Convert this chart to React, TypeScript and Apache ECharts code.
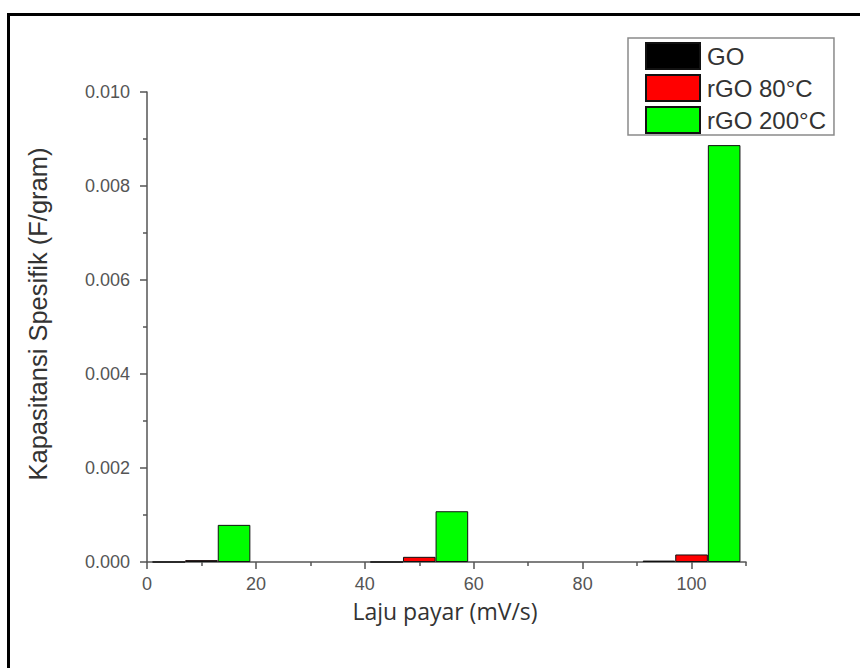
import React, { useEffect, useRef } from "react";
import * as echarts from "echarts";

const scanRates = [10, 50, 100];
const seriesNames = ["GO", "rGO 80°C", "rGO 200°C"];
const goValues = [0, 0, 0.00003];
const rgo80Values = [0.00004, 0.00011, 0.00016];
const rgo200Values = [0.00079, 0.00108, 0.00887];
const xMajorTicks = [0, 20, 40, 60, 80, 100];
const xMinorTicks = [10, 30, 50, 70, 90, 110];
const colors = ["#000000", "#ff0000", "#00ff00"];

const FONT = "'Liberation Sans', Arial, sans-serif";

export default function App() {
  const ref = useRef<HTMLDivElement>(null);
  useEffect(() => {
    if (!ref.current) return;
    document.body.style.margin = "0";
    const chart = echarts.init(ref.current, null, { renderer: "svg" });
    const allValues = [goValues, rgo80Values, rgo200Values];
    const axisColor = "#555555";
    chart.setOption({
      animation: false,
      backgroundColor: "#ffffff",
      grid: { left: 147, right: 114, top: 92, bottom: 106, containLabel: false },
      legend: {
        orient: "vertical",
        left: 628,
        top: 38,
        itemWidth: 54,
        itemHeight: 26,
        itemGap: 4,
        padding: [4, 8, 1, 17],
        borderColor: "#8a8a8a",
        borderWidth: 1.5,
        backgroundColor: "#ffffff",
        icon: "rect",
        data: seriesNames,
        textStyle: { fontFamily: FONT, fontSize: 24, color: "#333333", padding: [0, 0, 0, 2] },
      },
      xAxis: [
        {
          type: "value",
          min: 0,
          max: 110,
          interval: 20,
          axisLine: { show: true, lineStyle: { color: axisColor, width: 1.5 } },
          axisTick: { show: true, length: 7, customValues: xMajorTicks, lineStyle: { color: axisColor, width: 1.5 } },
          axisLabel: {
            show: true,
            customValues: xMajorTicks,
            margin: 13,
            fontFamily: FONT,
            fontSize: 18,
            lineHeight: 18,
            color: "#555555",
          },
          splitLine: { show: false },
        },
        {
          type: "value",
          min: 0,
          max: 110,
          interval: 10,
          position: "bottom",
          axisLine: { show: false },
          axisTick: { show: true, length: 4, customValues: xMinorTicks, lineStyle: { color: axisColor, width: 1.5 } },
          axisLabel: { show: false },
          splitLine: { show: false },
        },
      ],
      yAxis: {
        type: "value",
        min: 0,
        max: 0.01,
        interval: 0.002,
        axisLine: { show: true, lineStyle: { color: axisColor, width: 1.5 } },
        axisTick: { show: true, length: 7, lineStyle: { color: axisColor, width: 1.5 } },
        minorTick: { show: true, splitNumber: 2, length: 4, lineStyle: { color: axisColor, width: 1.5 } },
        axisLabel: {
          margin: 17,
          fontFamily: FONT,
          fontSize: 18,
          color: "#555555",
          formatter: (v: number) => v.toFixed(3),
        },
        splitLine: { show: false },
      },
      series: seriesNames.map((name, i) => ({
        name,
        type: "bar",
        xAxisIndex: 0,
        barWidth: 32.6,
        barGap: "0%",
        itemStyle: { color: colors[i], borderColor: "#111111", borderWidth: 1 },
        data: scanRates.map((x, j) => [x, allValues[i][j]]),
      })),
      graphic: [
        {
          type: "rect",
          shape: { x: 8.5, y: 14.5, width: 900, height: 700 },
          style: { fill: "none", stroke: "#000000", lineWidth: 3 },
          silent: true,
        },
        {
          type: "text",
          x: 38,
          y: 314,
          rotation: Math.PI / 2,
          style: {
            text: "Kapasitansi Spesifik (F/gram)",
            fontFamily: FONT,
            fontSize: 25.5,
            fill: "#333333",
            align: "center",
            verticalAlign: "middle",
          },
        },
        {
          type: "text",
          x: 445,
          y: 611,
          style: {
            text: "Laju payar (mV/s)",
            fontFamily: "'Open Sans', sans-serif",
            fontSize: 23,
            lineHeight: 24,
            fill: "#333333",
            align: "center",
            verticalAlign: "middle",
          },
        },
      ],
    });
    return () => chart.dispose();
  }, []);
  return <div ref={ref} style={{ position: "fixed", left: 0, top: 0, width: 860, height: 668 }} />;
}
